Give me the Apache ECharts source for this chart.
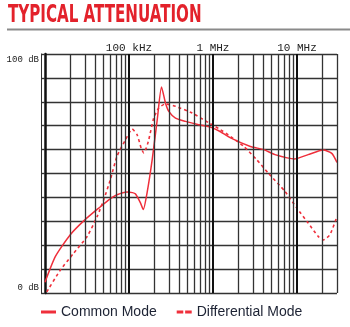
<!DOCTYPE html>
<html>
<head>
<meta charset="utf-8">
<script src="https://cdn.jsdelivr.net/npm/echarts@6/dist/echarts.min.js"></script>
<style>
  html, body { margin: 0; padding: 0; background: #fff; }
  #chart { width: 350px; height: 327px; }
</style>
</head>
<body>
<div id="chart"></div>
<script>
// Attenuation curves: [frequency in Hz, attenuation in dB]
const commonMode = [
  [10000, 4.5], [13300, 15.3], [20000, 24.4], [30000, 30.7], [46000, 36.2],
  [57500, 39], [72000, 41.1], [95000, 42.3], [110000, 42], [119000, 41.5],
  [137000, 37.7], [148000, 34.9], [164000, 41.8], [189000, 55.8], [217000, 72.5],
  [244000, 86.2], [272000, 79.5], [298000, 76], [358000, 73.2], [471000, 71.8],
  [678000, 70.4], [934000, 69.4], [1170000, 67.9], [1620000, 64.9], [2790000, 61.3],
  [4030000, 60], [5470000, 57.9], [9460000, 56.1], [13600000, 57.9], [20600000, 59.8],
  [26000000, 58.4], [30000000, 54.6]
];
const differentialMode = [
  [10500, 0.5], [15300, 9.7], [22000, 16.7], [31800, 23.7], [41800, 32],
  [50000, 39], [60000, 47.4], [72000, 57.2], [90800, 64.1], [109000, 68.6],
  [125000, 66.2], [140000, 60.5], [150000, 58.6], [160000, 60.5], [172000, 64.1],
  [197000, 73.2], [226000, 77.4], [272000, 79.1], [358000, 78.1], [565000, 75.3],
  [891000, 71.2], [1170000, 68.8], [1620000, 65.5], [2330000, 61.3], [3310000, 55.8],
  [4550000, 50.2], [7200000, 42.5], [10000000, 35.5], [13600000, 29.3], [17900000, 23.7],
  [20600000, 22.2], [24700000, 24.4], [30000000, 32]
];

// Frequency scale
const freqMin = 10000;
const freqMax = 30000000;
const xTickValues = [100000, 1000000, 10000000];
const xTickLabels = ['100 kHz', '1 MHz', '10 MHz'];
// Vertical grid lines (log grid: 2..9 in each decade)
const decadeLines = [100000, 1000000, 10000000];
const minorLines = [
  20000, 30000, 40000, 50000, 60000, 70000, 80000, 90000,
  200000, 300000, 400000, 500000, 600000, 700000, 800000, 900000,
  2000000, 3000000, 4000000, 5000000, 6000000, 7000000, 8000000, 9000000,
  20000000, 30000000
];

// Attenuation scale
const dbMin = 0;
const dbMax = 100;
const dbStep = 10;
const yTickValues = [0, 100];
const yTickLabels = ['0 dB', '100 dB'];

const seriesNames = ['Common Mode', 'Differential Mode'];

const RED = '#ef2f3b';
const chart = echarts.init(document.getElementById('chart'), null, { renderer: 'canvas' });

const gridLineData = minorLines.map(v => ({
  xAxis: v, lineStyle: { color: '#333', width: 1.3, type: 'solid' }
})).concat(decadeLines.map(v => ({
  xAxis: v, lineStyle: { color: '#111', width: 2, type: 'solid' }
})));

chart.setOption({
  animation: false,
  grid: { left: 45, top: 54, width: 292, height: 239, containLabel: false },
  graphic: [
    {
      type: 'text', x: 8, y: 4, scaleX: 0.70,
      style: {
        text: 'TYPICAL ATTENUATION',
        font: 'bold 24px "Liberation Sans Narrow", "DejaVu Sans Condensed", sans-serif',
        fill: '#e3222b', textVerticalAlign: 'top'
      }
    },
    { type: 'rect', shape: { x: 7, y: 28.5, width: 343, height: 2 }, style: { fill: '#8a8a8a' } }
  ],
  legend: {
    left: 41, top: 305, padding: 0,
    itemWidth: 15, itemHeight: 3, itemGap: 20,
    textStyle: { fontSize: 14, fontFamily: 'Liberation Sans, Arial, sans-serif', color: '#1c2233' },
    data: [
      { name: seriesNames[0], icon: 'rect' },
      { name: seriesNames[1], icon: 'path://M0,0h7v3h-7zM9,0h7v3h-7z' }
    ]
  },
  xAxis: {
    type: 'log', logBase: 10, min: freqMin, max: freqMax, position: 'top',
    axisLine: { show: false }, axisTick: { show: false }, splitLine: { show: false },
    axisLabel: {
      margin: 0, fontFamily: 'Liberation Mono, monospace', fontSize: 11, color: '#222',
      showMinLabel: false, showMaxLabel: false,
      formatter: function (v) {
        for (let i = 0; i < xTickValues.length; i++) {
          if (Math.abs(v / xTickValues[i] - 1) < 1e-6) return xTickLabels[i];
        }
        return '';
      }
    }
  },
  yAxis: [
    {
      type: 'value', min: dbMin, max: dbMax, interval: dbStep,
      axisLine: { show: true, lineStyle: { color: '#111', width: 2.5 } },
      axisTick: { show: true, length: 4, lineStyle: { color: '#333', width: 1.4 } },
      splitLine: { show: true, lineStyle: { color: '#333', width: 1.4 } },
      axisLabel: {
        margin: 6, fontFamily: 'Liberation Mono, monospace', fontSize: 9, color: '#222',
        formatter: function (v) {
          const i = yTickValues.indexOf(v);
          if (i < 0) return '';
          return v === dbMax ? '{top|' + yTickLabels[i] + '}' : '{bot|' + yTickLabels[i] + '}';
        },
        rich: {
          top: { padding: [12, 0, 0, 0], fontFamily: 'Liberation Mono, monospace', fontSize: 9, color: '#222' },
          bot: { padding: [0, 0, 10, 0], fontFamily: 'Liberation Mono, monospace', fontSize: 9, color: '#222' }
        }
      }
    },
    {
      type: 'value', min: dbMin, max: dbMax, position: 'left', offset: 4,
      axisLine: { show: true, lineStyle: { color: '#333', width: 1 } },
      axisTick: { show: false }, axisLabel: { show: false }, splitLine: { show: false }
    }
  ],
  series: [
    {
      name: 'grid', type: 'line', data: [], z: 1, silent: true,
      markLine: {
        silent: true, symbol: ['none', 'none'], label: { show: false },
        emphasis: { disabled: true }, animation: false,
        data: gridLineData
      }
    },
    {
      name: seriesNames[0], type: 'line', data: commonMode, z: 3,
      symbol: 'none', smooth: 0.2,
      lineStyle: { color: RED, width: 1.5, type: 'solid' },
      itemStyle: { color: RED }
    },
    {
      name: seriesNames[1], type: 'line', data: differentialMode, z: 3,
      symbol: 'none', smooth: 0.2,
      lineStyle: { color: RED, width: 1.6, type: [3, 3] },
      itemStyle: { color: RED }
    }
  ]
});
</script>
</body>
</html>
